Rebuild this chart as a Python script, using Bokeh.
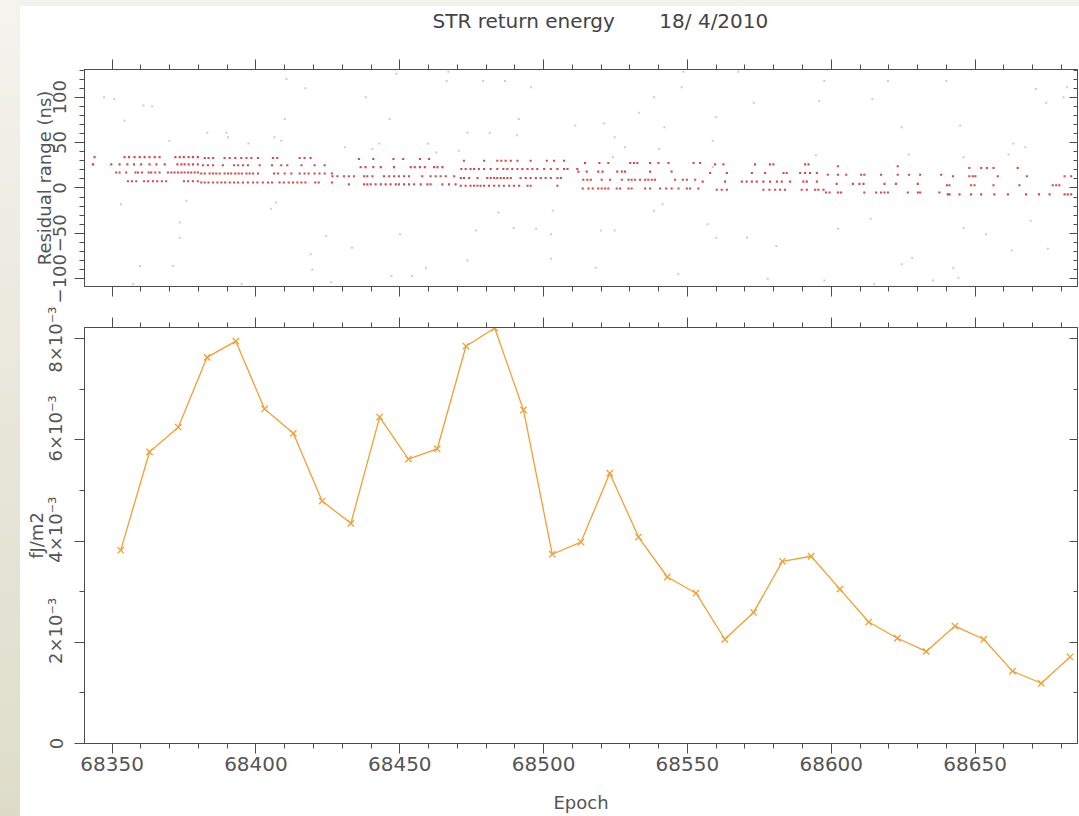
from bokeh.plotting import figure
from bokeh.models import (Range1d, SingleIntervalTicker, LinearAxis,
                          CustomJSTickFormatter, Div)
from bokeh.layouts import column, row
from bokeh.embed import file_html
from bokeh.resources import INLINE

# ---------------- data ----------------
title_text = "STR return energy" + "\u00a0" * 6 + " 18/\u00a04/2010"

# lower panel: return energy (fJ/m2) per epoch
epoch = [68353, 68363, 68373, 68383, 68393, 68403, 68413, 68423, 68433, 68443,
         68453, 68463, 68473, 68483, 68493, 68503, 68513, 68523, 68533, 68543,
         68553, 68563, 68573, 68583, 68593, 68603, 68613, 68623, 68633, 68643,
         68653, 68663, 68673, 68683]
energy = [3.82e-3, 5.76e-3, 6.25e-3, 7.63e-3, 7.95e-3, 6.61e-3, 6.13e-3, 4.79e-3,
          4.35e-3, 6.45e-3, 5.62e-3, 5.82e-3, 7.85e-3, 8.21e-3, 6.59e-3, 3.74e-3,
          3.98e-3, 5.34e-3, 4.08e-3, 3.29e-3, 2.97e-3, 2.06e-3, 2.59e-3, 3.60e-3,
          3.70e-3, 3.05e-3, 2.40e-3, 2.08e-3, 1.82e-3, 2.32e-3, 2.06e-3, 1.43e-3,
          1.19e-3, 1.71e-3]

# upper panel: accepted returns (red), grouped as (residual ns, epochs)
red_rows = [
    (34, [68343.9, 68354.3, 68355.9, 68357.8, 68359.6, 68361.3, 68363.0, 68364.8, 68366.5,
          68372.0, 68373.5, 68374.9, 68376.6, 68378.1, 68379.8]),
    (33, [68382.2, 68383.5, 68385.1, 68389.1, 68390.9, 68392.8, 68394.9, 68396.7, 68398.4,
          68400.7, 68405.9, 68407.4, 68415.2, 68416.9, 68419.0]),
    (26, [68343.3, 68349.7, 68352.6, 68355.3, 68357.6, 68360.1, 68363.0, 68365.4, 68368.3,
          68372.7, 68374.1, 68375.2, 68376.6, 68378.1, 68379.8]),
    (25, [68381.6, 68383.3, 68385.1, 68388.5, 68392.4, 68393.8, 68395.5, 68397.2, 68401.3,
          68405.6, 68408.8, 68410.9, 68415.8, 68420.4, 68423.9]),
    (17, [68351.4, 68352.6, 68354.9, 68358.1, 68359.0, 68360.4, 68362.7, 68363.6, 68365.0,
          68366.5, 68369.4, 68370.6, 68371.7, 68372.9, 68374.1, 68375.2, 68376.4, 68377.5,
          68378.7, 68379.8]),
    (16, [68381.0, 68382.2, 68383.9, 68385.1, 68386.2, 68387.4, 68389.1, 68390.3, 68391.4,
          68392.8, 68394.0, 68395.1, 68396.7, 68397.8, 68399.0, 68400.7, 68406.3, 68407.7,
          68410.0, 68412.3, 68415.2, 68416.9, 68418.3, 68420.4, 68422.1, 68423.9, 68426.4]),
    (7.5, [68355.5, 68356.9, 68358.4, 68361.1, 68362.5, 68364.2, 68365.7, 68367.3, 68368.8,
           68375.0, 68376.4, 68378.1, 68379.8]),
    (6, [68381.0, 68382.2, 68383.5, 68385.1, 68386.6, 68388.0, 68389.3, 68390.9, 68392.4,
         68393.8, 68395.5, 68397.2, 68399.0, 68400.5, 68402.4, 68404.2, 68405.6, 68408.2,
         68409.7, 68411.4, 68412.9, 68414.4, 68415.8, 68417.2, 68420.6, 68421.8, 68426.4]),
    (32, [68435.8, 68440.8, 68447.8, 68451.2, 68457.0, 68460.2]),
    (30, [68472.3, 68479.3, 68483.9, 68485.3, 68486.8, 68488.6, 68490.9, 68495.5, 68501.1,
          68503.6, 68507.1]),
    (23, [68436.4, 68438.1, 68440.8, 68443.4, 68448.0, 68453.8, 68455.2, 68457.0, 68458.7,
          68461.9, 68463.1, 68464.8]),
    (21, [68471.4, 68472.9, 68474.6, 68475.8, 68477.5, 68479.3, 68481.6, 68483.9, 68486.0,
          68487.4, 68489.1, 68490.9, 68492.6, 68494.4, 68496.1, 68497.8, 68500.2, 68502.5,
          68504.8, 68507.1, 68508.3, 68511.7]),
    (13, [68426.6, 68428.3, 68430.6, 68432.3, 68434.1, 68437.6, 68438.7, 68440.5, 68444.5,
          68446.3, 68448.0, 68449.7, 68451.5, 68453.2, 68457.8, 68460.7, 68462.5, 68464.2,
          68466.0, 68468.9]),
    (11, [68471.2, 68472.3, 68474.1, 68477.0, 68480.4, 68481.6, 68482.8, 68483.9, 68485.1,
          68486.2, 68487.4, 68488.6, 68492.0, 68493.8, 68495.5, 68497.3, 68499.0, 68500.7,
          68502.5, 68504.8, 68506.0]),
    (4, [68432.3, 68437.6, 68438.7, 68439.9, 68441.6, 68443.4, 68445.1, 68446.8, 68448.6,
         68449.7, 68451.5, 68453.2, 68455.0, 68457.3, 68459.6, 68460.7, 68464.8, 68467.1,
         68469.4]),
    (2.5, [68471.2, 68472.9, 68474.6, 68475.8, 68477.0, 68478.1, 68479.3, 68481.0, 68482.8,
           68484.5, 68486.2, 68488.0, 68489.7, 68491.5, 68494.4, 68495.5, 68504.8]),
    (27.5, [68514.4, 68519.4, 68522.5, 68530.1, 68531.4, 68532.6, 68537.0, 68539.9, 68543.4,
            68552.1, 68554.4]),
    (26, [68559.6, 68562.5, 68573.5, 68578.7, 68579.9, 68590.9, 68592.1]),
    (18, [68512.1, 68515.0, 68519.0, 68520.5, 68525.6, 68527.2, 68528.3, 68537.0, 68544.5]),
    (16.5, [68557.9, 68563.7, 68572.4, 68577.0, 68583.4, 68584.5, 68589.2, 68590.9, 68592.6,
            68595.0]),
    (9, [68513.8, 68515.2, 68516.4, 68520.2, 68523.1, 68527.2, 68529.5, 68530.6, 68531.8,
         68533.5, 68535.3, 68536.4, 68537.6, 68538.7, 68545.7, 68548.4, 68549.8, 68552.7]),
    (7, [68555.3, 68563.1, 68568.9, 68570.6, 68572.4, 68574.1, 68576.4, 68578.7, 68581.1,
         68582.8, 68585.7, 68590.3, 68591.5, 68595.0]),
    (-0.5, [68513.6, 68515.6, 68517.1, 68519.0, 68520.2, 68521.4, 68522.5, 68525.4, 68526.6,
            68529.5, 68530.6, 68535.3, 68537.0, 68540.5, 68542.6, 68544.5, 68546.9, 68549.8,
            68550.9, 68553.8]),
    (-2, [68560.2, 68561.9, 68563.7, 68576.4, 68578.5, 68580.5, 68582.2, 68583.9, 68589.7,
          68591.5, 68594.4, 68595.5, 68597.3]),
    (24, [68602.3, 68623.1]),
    (22, [68648.0, 68652.1, 68654.1, 68656.4, 68664.8]),
    (14.5, [68598.8, 68602.3, 68605.2, 68610.4, 68611.5, 68617.3, 68623.1, 68627.0, 68630.9,
            68638.2]),
    (13, [68642.3, 68648.0, 68649.2, 68650.1, 68657.9, 68668.0, 68681.1, 68683.4]),
    (4.5, [68601.9, 68607.5, 68609.8, 68611.2, 68618.5, 68622.5, 68630.1]),
    (3, [68640.2, 68641.1, 68648.6, 68649.8, 68656.4, 68665.4, 68677.0, 68678.2, 68679.3]),
    (-5, [68598.2, 68599.4, 68602.3, 68603.4, 68611.5, 68615.6, 68617.3, 68618.5, 68619.7,
          68626.6, 68630.1, 68630.9, 68637.6]),
    (-7, [68640.5, 68641.1, 68644.6, 68648.6, 68652.1, 68656.7, 68661.4, 68667.7, 68672.2,
          68675.9, 68681.1, 68682.2, 68683.4]),
]

# upper panel: rejected / noise returns (faint)
noise_epoch = [68347.2, 68350.7, 68360.9, 68363.9, 68343.6, 68354.3, 68353.1, 68359.7, 68371.1,
               68357.3, 68373.5, 68373.5, 68369.9, 68383.1, 68389.7, 68390.3, 68397.4, 68406.4,
               68408.8, 68410.6, 68417.2, 68410.0, 68407.0, 68405.2, 68419.0, 68419.6, 68424.4,
               68426.2, 68433.4, 68438.2, 68446.5, 68448.9, 68450.1, 68447.1, 68454.3, 68459.1,
               68466.9, 68466.3, 68473.5, 68476.5, 68478.9, 68484.3, 68486.6, 68489.6, 68491.4,
               68495.6, 68497.4, 68431.0, 68440.5, 68442.9, 68459.7, 68462.7, 68470.5, 68473.5,
               68481.3, 68490.8, 68395.0, 68375.9,
               68548.6, 68548.0, 68538.4, 68533.1, 68511.0, 68521.1, 68542.0, 68524.7, 68528.3,
               68540.2, 68558.8, 68567.7, 68573.1, 68560.0, 68597.6, 68595.8, 68614.3, 68619.7,
               68640.0, 68624.5, 68644.8, 68663.3, 68667.5, 68671.1, 68674.7, 68680.7, 68681.9,
               68538.4, 68541.4, 68503.2, 68502.6, 68519.9, 68524.7, 68557.0, 68560.0, 68570.7,
               68580.9, 68602.4, 68613.7, 68628.1, 68624.5, 68642.4, 68644.2, 68646.0, 68653.8,
               68662.7, 68669.3, 68675.3, 68502.6, 68518.1, 68546.8, 68577.9, 68597.6, 68614.9,
               68635.3, 68558.8, 68594.6, 68626.9, 68646.0, 68524.1, 68661.6]
noise_resid = [100, 98, 91, 90, 26, 74, -18, -86, -86,
               -106, -38, -55, 52, 61, 61, 56, 49, 56,
               52, 120, 110, 76, -16, -23, -73, -90, -53,
               -104, -66, 100, 76, 126, -51, -97, -97, -88,
               128, 118, -80, -47, 118, -27, 118, -44, 76,
               111, -45, 45, 43, 49, 49, 39, 41, 61,
               61, 58, -106, -14,
               128, 111, 100, 83, 69, 71, 67, 56, 45,
               43, 52, 128, 94, 78, 118, 96, 98, 118,
               118, 67, 69, 49, 45, 109, 94, 100, 111,
               -25, -18, -25, -51, -47, -47, -40, -55, -55,
               -64, -45, -34, -77, -84, -88, -99, -44, -51,
               -69, -36, -67, -78, -88, -95, -100, -102, -106,
               -102, 23, 36, 37, 34, 34, 37]

x_start, x_end = 68340.4, 68685.6
resid_start, resid_end = -108.6, 130.6
energy_start, energy_end = 0.0, 8.22e-3

# ---------------- styling ----------------
FONT = "DejaVu Sans"
LINE = "#4d4d4d"
TXT = "#555555"
ORANGE = "#f0a035"
RED = "#cc2a2a"
GREY = "#b9c2cc"

red_x, red_y = [], []
for lvl, xs in red_rows:
    red_x += xs
    red_y += [lvl] * len(xs)


def mk_axis(ticker, formatter=None, label=None, show_labels=True,
            tick_in=0, tick_out=10, orient="horizontal", label_size="18px"):
    ax = LinearAxis(ticker=ticker)
    if formatter is not None:
        ax.formatter = formatter
    ax.axis_line_color = LINE
    ax.axis_line_width = 1
    ax.major_tick_line_color = LINE
    ax.minor_tick_line_color = LINE
    ax.major_tick_in = tick_in
    ax.major_tick_out = tick_out
    ax.minor_tick_in = tick_in // 2
    ax.minor_tick_out = tick_out // 2
    if show_labels:
        ax.major_label_text_font = FONT
        ax.major_label_text_font_size = label_size
        ax.major_label_text_color = TXT
        ax.major_label_orientation = orient
    else:
        ax.major_label_text_font_size = "0px"
        ax.major_label_standoff = 0
        ax.formatter = CustomJSTickFormatter(code="return '';")
    if label:
        ax.axis_label = label
        ax.axis_label_text_font = FONT
        ax.axis_label_text_font_size = "18px"
        ax.axis_label_text_font_style = "normal"
        ax.axis_label_text_color = TXT
    return ax


def xt():
    return SingleIntervalTicker(interval=50, num_minor_ticks=5)


def bare(p):
    p.xgrid.visible = False
    p.ygrid.visible = False
    p.background_fill_color = "white"
    p.border_fill_color = "white"


# ---------------- title strip ----------------
pt = figure(width=1059, height=53, output_backend="svg", toolbar_location=None,
            x_axis_location=None, y_axis_location=None,
            min_border_left=64, min_border_right=2, min_border_top=0, min_border_bottom=0)
bare(pt)
pt.outline_line_color = None
pt.title.text = title_text
pt.title.align = "left"
pt.title.offset = 348
pt.title.standoff = 0
pt.title.text_font = FONT
pt.title.text_font_size = "20px"
pt.title.text_font_style = "normal"
pt.title.text_color = "#444444"

# ---------------- top panel ----------------
p1 = figure(width=1059, height=247, x_range=Range1d(x_start, x_end),
            y_range=Range1d(resid_start, resid_end),
            x_axis_location=None, y_axis_location=None,
            output_backend="svg", toolbar_location=None,
            min_border_left=64, min_border_right=2, min_border_top=10, min_border_bottom=20)
bare(p1)
p1.outline_line_color = LINE

resid_fmt = CustomJSTickFormatter(code="return tick < 0 ? '\u2212' + Math.abs(tick) : '' + tick;")
ly1 = mk_axis(SingleIntervalTicker(interval=50, num_minor_ticks=5), resid_fmt,
              label="Residual range (ns)", orient="vertical")
ly1.major_label_standoff = 8
ly1.axis_label_standoff = -4
ly1.major_label_text_line_height = 1.0
ly1.axis_label_text_line_height = 1.0
p1.add_layout(ly1, "left")
p1.add_layout(mk_axis(SingleIntervalTicker(interval=50, num_minor_ticks=5), show_labels=False,
                      tick_in=8, tick_out=0), "right")
p1.add_layout(mk_axis(xt(), show_labels=False), "below")
p1.add_layout(mk_axis(xt(), show_labels=False), "above")

p1.scatter(noise_epoch, noise_resid, marker="square", size=2.0, fill_color=GREY,
           line_color=None, fill_alpha=0.8)
p1.scatter(red_x, red_y, marker="square", size=2.1, fill_color=RED, line_color=None,
           fill_alpha=0.85)

# ---------------- bottom panel ----------------
p2 = figure(width=1059, height=510, x_range=Range1d(x_start, x_end),
            y_range=Range1d(energy_start, energy_end),
            x_axis_location=None, y_axis_location=None,
            output_backend="svg", toolbar_location=None,
            min_border_left=64, min_border_right=2, min_border_top=21, min_border_bottom=73)
bare(p2)
p2.outline_line_color = LINE

# leading no-break spaces keep the rotated label centred on its tick
energy_fmt = CustomJSTickFormatter(
    code="if (Math.abs(tick) < 1e-9) return '0'; "
         "return '\u00a0\u00a0\u00a0\u00a0' + Math.round(tick*1000) + '\u00d710\u207b\u00b3';")
epoch_fmt = CustomJSTickFormatter(code="return tick.toFixed(0);")

ly2 = mk_axis(SingleIntervalTicker(interval=0.002, num_minor_ticks=2), energy_fmt,
              label="fJ/m2", orient="vertical")
ly2.major_label_standoff = 8
ly2.axis_label_standoff = -4
ly2.major_label_text_line_height = 1.0
ly2.axis_label_text_line_height = 1.0
p2.add_layout(ly2, "left")
p2.add_layout(mk_axis(SingleIntervalTicker(interval=0.002, num_minor_ticks=2), show_labels=False,
                      tick_in=8, tick_out=0), "right")
bx = mk_axis(xt(), epoch_fmt, label="Epoch", label_size="20px")
bx.major_label_standoff = 3
bx.axis_label_standoff = 18
p2.add_layout(bx, "below")
p2.add_layout(mk_axis(xt(), show_labels=False), "above")

p2.line(epoch, energy, line_color=ORANGE, line_width=1.3)
p2.scatter(epoch, energy, marker="x", size=9, line_color=ORANGE, line_width=1.3)

# ---------------- page ----------------
strip = Div(width=20, height=816, margin=0,
            styles={"background": "linear-gradient(180deg, #f4f3ee 0%, #eae8dc 45%, #dedcc9 100%)"})
topbar = Div(width=1059, height=6, margin=0, styles={"background": "#f3f3ee"})
layout = row(strip, column(topbar, pt, p1, p2, spacing=0), spacing=0)

with open("out.html", "w") as f:
    f.write(file_html(layout, INLINE))
